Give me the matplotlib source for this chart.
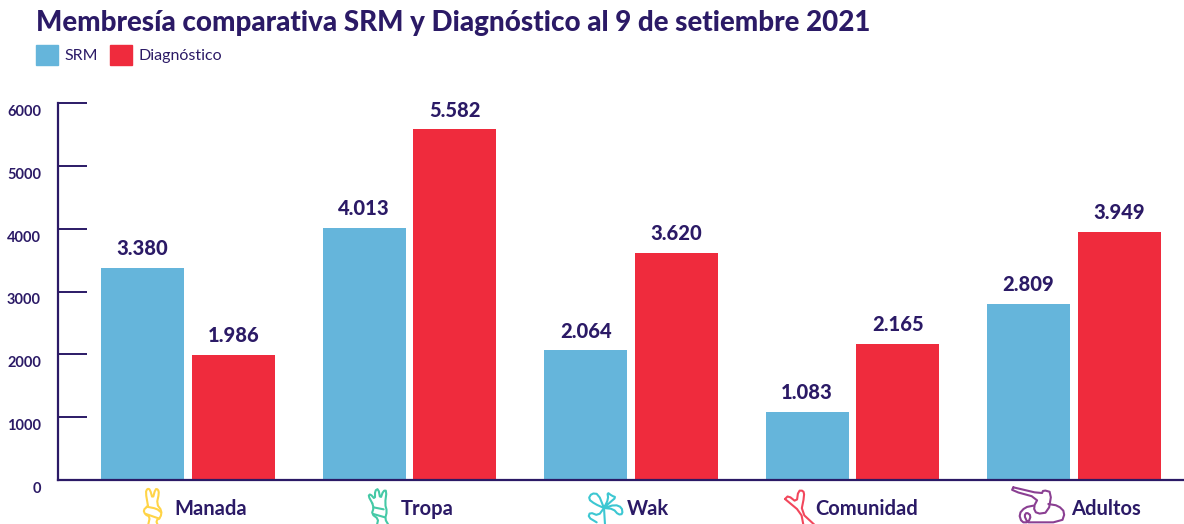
import numpy as np
import matplotlib
matplotlib.use("Agg")
import matplotlib.pyplot as plt
from matplotlib.patches import Patch

categorias = ["Manada", "Tropa", "Wak", "Comunidad", "Adultos"]
srm = [3380, 4013, 2064, 1083, 2809]
diagnostico = [1986, 5582, 3620, 2165, 3949]
srm_labels = ["3.380", "4.013", "2.064", "1.083", "2.809"]
diag_labels = ["1.986", "5.582", "3.620", "2.165", "3.949"]
yticks = [0, 1000, 2000, 3000, 4000, 5000, 6000]

AZUL = "#65B5DB"
ROJO = "#EF2B3D"
TINTA = "#2B1A66"
W, H = 1184, 524

# iconos de cada rama: trazos a mano en pixeles (origen, color, trazos en zoom x3)
iconos = [
    ((130, 484), "#FFD447", [
        [(54, 66), (47, 25), (52, 14), (60, 16), (68, 45), (76, 15), (84, 16), (87, 28), (80, 60), (95, 80), (92, 100), (78, 110), (84, 125)],
        [(54, 66), (40, 78), (46, 92), (60, 98), (54, 125)],
        [(50, 68), (80, 74), (92, 84)],
        [(48, 90), (88, 104)],
    ]),
    ((355, 484), "#45C9A6", [
        [(52, 58), (40, 36), (46, 30), (60, 46), (60, 20), (70, 14), (76, 45), (85, 20), (95, 20), (90, 60), (96, 82), (90, 105), (100, 122)],
        [(52, 58), (56, 72), (50, 90), (70, 105), (66, 122)],
        [(55, 70), (86, 76)],
        [(55, 90), (90, 100)],
    ]),
    ((580, 484), "#3CC7D2", [
        [(72, 72), (45, 60), (25, 45), (35, 28), (55, 30), (72, 72)],
        [(72, 72), (85, 45), (82, 25), (95, 35), (108, 40), (90, 55), (72, 72)],
        [(72, 72), (105, 62), (125, 70), (128, 90), (115, 92), (100, 75), (72, 72)],
        [(72, 72), (55, 95), (30, 85), (25, 100), (50, 115)],
        [(72, 72), (75, 122)],
    ]),
    ((775, 484), "#F2475C", [
        [(30, 45), (40, 35), (65, 55), (70, 20), (85, 20), (88, 35), (78, 85), (118, 122)],
        [(30, 45), (78, 85), (85, 122)],
    ]),
    ((1005, 484), "#8A3F92", [
        [(25, 10), (110, 30), (115, 18), (140, 25), (130, 85), (95, 90), (85, 70), (100, 42), (20, 20), (25, 10)],
        [(85, 65), (60, 70), (42, 90), (50, 115), (70, 115), (78, 95), (65, 85), (58, 95), (65, 110)],
        [(130, 60), (160, 65), (180, 85), (170, 115), (70, 115)],
    ]),
]


def suaviza(pts, veces=1):
    # Chaikin, para que los trazos no queden tan rectos
    p = np.array(pts, dtype=float)
    for _ in range(veces):
        q = 0.75 * p[:-1] + 0.25 * p[1:]
        r = 0.25 * p[:-1] + 0.75 * p[1:]
        p = np.vstack([p[0], np.column_stack([q, r]).reshape(-1, 2), p[-1]])
    return p


plt.rcParams["font.family"] = ["Lato", "DejaVu Sans"]
fig = plt.figure(figsize=(W / 100, H / 100), dpi=100)
ax = fig.add_axes([58 / W, 1 - 480 / H, (W - 58) / W, 377 / H])

x = np.arange(len(categorias))
ancho = 0.375
sep = 0.205
b1 = ax.bar(x - sep, srm, ancho, color=AZUL)
b2 = ax.bar(x + sep, diagnostico, ancho, color=ROJO)

# etiquetas encima de cada barra
ax.bar_label(b1, labels=srm_labels, padding=7, fontsize=14.5, fontweight="black", color=TINTA)
ax.bar_label(b2, labels=diag_labels, padding=7, fontsize=14.5, fontweight="black", color=TINTA)

ax.set_xlim(-0.587, 4.497)
ax.set_ylim(0, 6000)
ax.set_yticks(yticks)
ax.set_yticklabels([])
ax.set_xticks([])
ax.tick_params(axis="y", direction="in", length=21, width=1.4, color=TINTA)
for s in ["top", "right"]:
    ax.spines[s].set_visible(False)
for s in ["left", "bottom"]:
    ax.spines[s].set_color(TINTA)
    ax.spines[s].set_linewidth(1.6)

# los numeros del eje van un poco por debajo de cada marca
for v in yticks:
    ax.annotate(str(v), (0, v), xycoords=("axes fraction", "data"), xytext=(-17, -9),
                textcoords="offset pixels", ha="right", va="center",
                fontsize=10.5, fontweight="bold", color=TINTA)

# nombre de cada rama, corrido a la derecha para dejar sitio al icono
desplaza = [23, 18, 17, 14, 32]
for i, nombre in enumerate(categorias):
    ax.annotate(nombre, (i, 0), xycoords=("data", "axes fraction"),
                xytext=(desplaza[i], -29), textcoords="offset pixels",
                ha="center", va="center", fontsize=14.5, fontweight="bold", color=TINTA)

# capa en pixeles solo para los iconos
capa = fig.add_axes([0, 0, 1, 1], facecolor="none")
capa.set_xlim(0, W)
capa.set_ylim(H, 0)
capa.axis("off")
for (ox, oy), color, trazos in iconos:
    for t in trazos:
        p = suaviza(t)
        capa.plot(ox + p[:, 0] / 3, oy + p[:, 1] / 3, color=color, lw=1.5, solid_capstyle="round")

fig.text(36 / W, 1 - 23 / H, "Membresía comparativa SRM y Diagnóstico al 9 de setiembre 2021",
         fontsize=20, fontweight="black", color=TINTA, va="center")

handles = [Patch(color=AZUL, label="SRM"), Patch(color=ROJO, label="Diagnóstico")]
fig.legend(handles=handles, loc="upper left", bbox_to_anchor=(22 / W, 1 - 31 / H), ncol=2,
           frameon=False, fontsize=11.5, labelcolor=TINTA, handlelength=1.38, handleheight=1.5,
           handletextpad=0.4, columnspacing=0.75)

fig.savefig("out.png", dpi=100)
